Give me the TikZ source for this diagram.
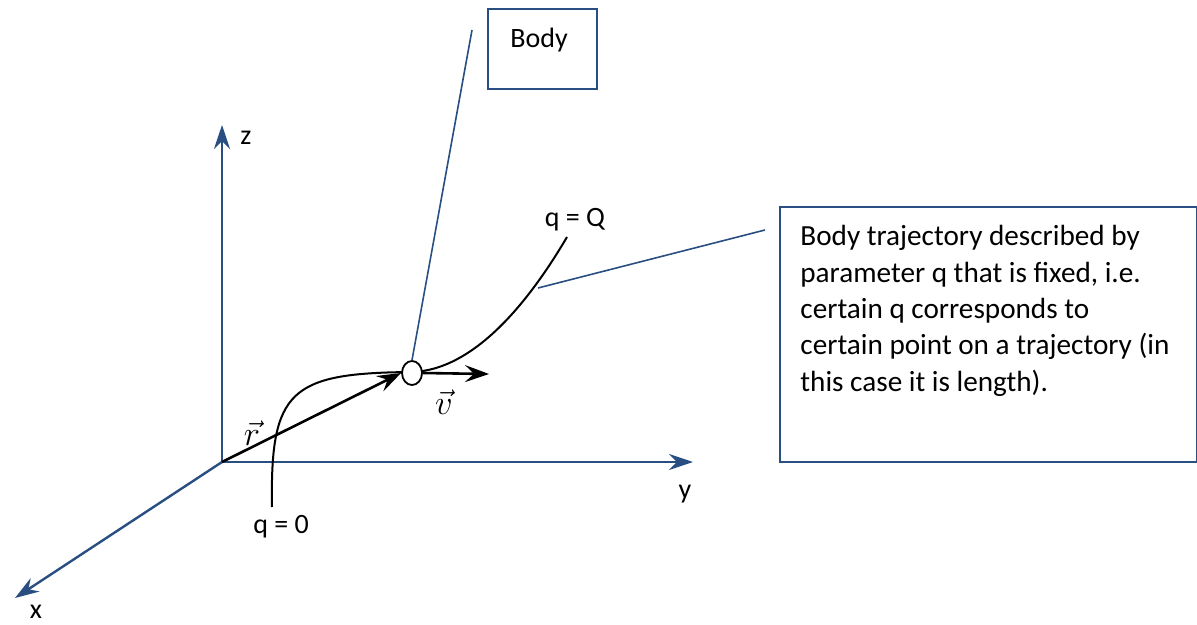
\documentclass[tikz,border=0pt]{standalone}
\usepackage{fontspec}
\setmainfont{Carlito}
\usetikzlibrary{arrows.meta,shapes.geometric}
\definecolor{axblue}{RGB}{41,78,130}
\begin{document}
\begin{tikzpicture}[x=0.5pt,y=-0.5pt,
    axis/.style={axblue,line width=1.2pt,-{Stealth[length=12pt,width=8pt,inset=4pt]}},
    vec/.style={line width=1.3pt,-{Stealth[length=12pt,width=8.5pt,inset=4.5pt]}},
    callout/.style={axblue,line width=0.8pt},
    lbl/.style={font=\fontsize{14}{17}\selectfont,inner sep=0pt}]
  \useasboundingbox (0,0) rectangle (1197,625);
  % axes
  \coordinate (O) at (222,462);
  \coordinate (ztip) at (222,125);
  \coordinate (ytip) at (693,462);
  \coordinate (xtip) at (15,598);
  \draw[axis] (O) -- (ztip);
  \draw[axis] (O) -- (ytip);
  \draw[axis] (O) -- (xtip);
  \node[lbl] (zlab) at (246,138) {z};
  \node[lbl] (ylab) at (685,494) {y};
  \node[lbl] (xlab) at (36,612) {x};
  % trajectory
  \coordinate (q0) at (272,507);
  \coordinate (qQ) at (567,237);
  \draw[line width=1pt] (q0) .. controls (270,390) and (290,373) .. (412,372)
    .. controls (475,370) and (530,300) .. (qQ);
  \node[lbl] (q0lab) at (281,527) {q = 0};
  \node[lbl] (qQlab) at (575,220) {q = Q};
  % body point
  \node[ellipse,draw,fill=white,line width=0.9pt,minimum width=10pt,minimum height=12pt,inner sep=0pt] (pt) at (412,373) {};
  \draw[vec] (O) -- (pt.west);
  \coordinate (vtip) at (489,374);
  \draw[vec] (pt.east) -- (vtip);
  \node[font=\fontsize{17}{20}\selectfont] (rlab) at (252,433) {$\vec{r}$};
  \node[font=\fontsize{17}{20}\selectfont] (vlab) at (444,402) {$\vec{v}$};
  % body callout
  \node[draw=axblue,line width=1pt,minimum width=54.5pt,minimum height=40pt,anchor=north west] (bodybox) at (487,8) {};
  \node[lbl] (bodytxt) at (539,40) {Body};
  \coordinate (bodyend) at (472,30);
  \draw[callout] (bodyend) -- (pt.north);
  % trajectory callout
  \node[draw=axblue,line width=1pt,minimum width=208.5pt,minimum height=127.5pt,anchor=north west] (trajbox) at (779,206) {};
  \node[lbl,anchor=north west,align=left,font=\fontsize{14.6}{18.2}\selectfont] (trajtxt) at (800,225)
    {Body trajectory described by\\ parameter q that is fixed, i.e.\\ certain q corresponds to\\ certain point on a trajectory (in\\ this case it is length).};
  \coordinate (trajend) at (765,230);
  \coordinate (curvept) at (538,288);
  \draw[callout] (trajend) -- (curvept);
\end{tikzpicture}
\end{document}
